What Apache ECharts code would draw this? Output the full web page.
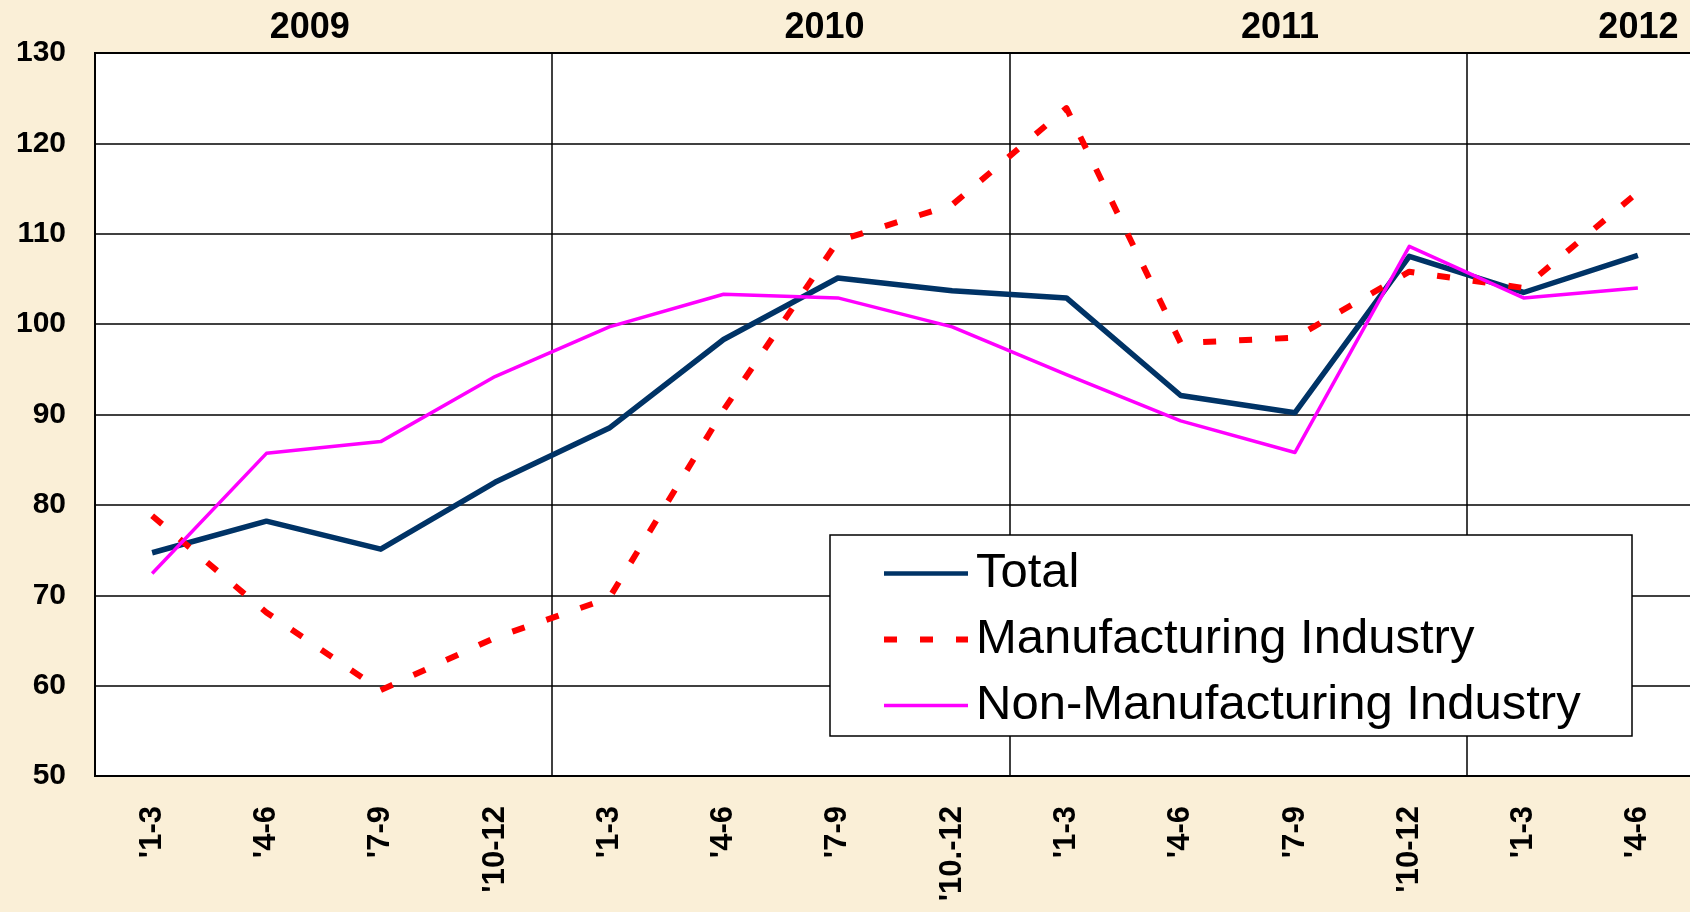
<!DOCTYPE html>
<html><head><meta charset="utf-8">
<script src="https://cdn.jsdelivr.net/npm/echarts@6/dist/echarts.min.js"></script>
<style>html,body{margin:0;padding:0;background:#FAEFD7;}#c{width:1690px;height:912px;}</style>
</head><body><div id="c"></div>
<script>
// ---- data ----
const categories = ["'1-3", "'4-6", "'7-9", "'10-12", "'1-3", "'4-6", "'7-9", "'10.-12", "'1-3", "'4-6", "'7-9", "'10-12", "'1-3", "'4-6"];
const years = ['2009', '2010', '2011', '2012'];
const seriesNames = ['Total', 'Manufacturing Industry', 'Non-Manufacturing Industry'];
const total = [74.7, 78.2, 75.1, 82.5, 88.5, 98.3, 105.1, 103.7, 102.9, 92.1, 90.2, 107.5, 103.5, 107.6];
const manufacturing = [78.8, 68.1, 59.5, 65.3, 69.7, 90.5, 109.2, 113.2, 123.9, 97.9, 98.5, 105.8, 104.0, 114.6];
const nonManufacturing = [72.4, 85.7, 87.0, 94.2, 99.7, 103.3, 102.9, 99.7, 94.4, 89.3, 85.8, 108.6, 102.9, 104.0];
const yMin = 50, yMax = 130, yStep = 10;

// ---- layout / style (not data) ----
const yearX = [309.7, 824.5, 1280, 1638.4];
const yearY = 28.5;
const FONT = '"Liberation Sans", Arial, sans-serif';
const colors = ['#003366', '#FF0000', '#FF00FF'];
const widths = [5.5, 6, 3.5];
const legendWidths = [4.5, 6, 3.5];
const dashes = ['solid', [13, 23], 'solid'];

const chart = echarts.init(document.getElementById('c'), null, {renderer: 'canvas'});
const option = {
  backgroundColor: '#FAEFD7',
  animation: false,
  grid: {
    left: 95, top: 53, width: 1600, height: 723,
    show: true, backgroundColor: '#ffffff', borderColor: '#000', borderWidth: 2,
    containLabel: false, outerBoundsMode: 'none'
  },
  xAxis: {
    type: 'category', data: categories, boundaryGap: true,
    axisLine: {show: true, lineStyle: {color: '#000', width: 2}},
    axisTick: {show: false},
    axisLabel: {interval: 0, rotate: 90, margin: 30, fontSize: 31, fontWeight: 'bold', color: '#000', fontFamily: FONT},
    splitLine: {show: true, interval: function (i) { return i > 0 && i % 4 === 0; }, lineStyle: {color: '#000', width: 1.5}}
  },
  yAxis: {
    type: 'value', min: yMin, max: yMax, interval: yStep,
    axisLine: {show: true, lineStyle: {color: '#000', width: 2}},
    axisTick: {show: false},
    axisLabel: {margin: 29, fontSize: 30, fontWeight: 'bold', color: '#000', fontFamily: FONT},
    splitLine: {show: true, lineStyle: {color: '#000', width: 1.5}}
  },
  legend: {
    orient: 'vertical', left: 881, top: 540.5, padding: 0,
    itemWidth: 84, itemHeight: 50, itemGap: 0, z: 20,
    itemStyle: {color: 'rgba(0,0,0,0)', borderWidth: 0, opacity: 0},
    textStyle: {fontSize: 49, lineHeight: 50, color: '#000', fontFamily: FONT, padding: [16, 0, 0, 3]},
    data: seriesNames.map(function (n, i) {
      return {name: n, lineStyle: {color: colors[i], width: legendWidths[i], type: dashes[i], cap: 'butt'}};
    })
  },
  graphic: [
    {type: 'rect', z: 10, shape: {x: 830, y: 535, width: 802, height: 201},
     style: {fill: '#ffffff', stroke: '#000', lineWidth: 1.5}}
  ].concat(years.map(function (y, i) {
    return {type: 'text', z: 10, x: yearX[i], y: yearY,
      style: {text: y, font: 'bold 36px ' + FONT, fill: '#000', align: 'center', verticalAlign: 'middle'}};
  })),
  series: seriesNames.map(function (n, i) {
    return {name: n, type: 'line', data: [total, manufacturing, nonManufacturing][i], symbol: 'none',
      lineStyle: {color: colors[i], width: widths[i], type: dashes[i], cap: 'butt', join: 'round'},
      itemStyle: {color: colors[i]}};
  })
};
chart.setOption(option);
</script>
</body></html>
